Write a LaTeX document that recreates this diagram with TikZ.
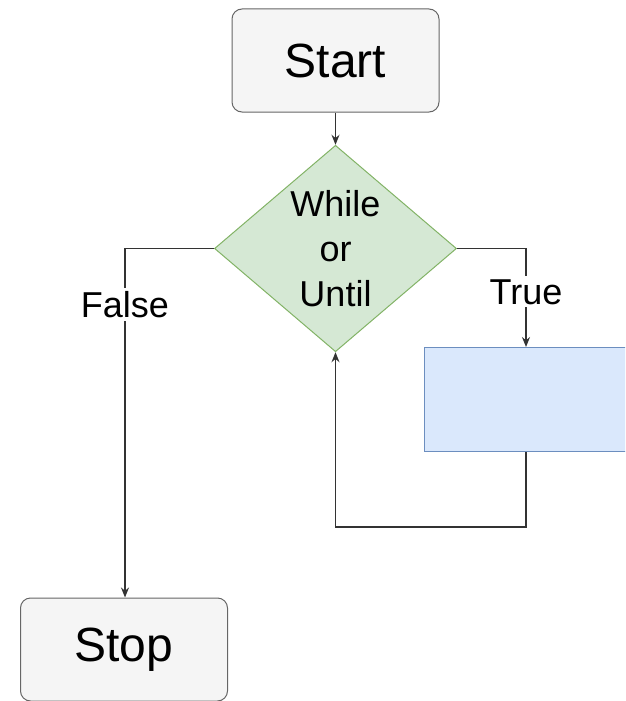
\documentclass[tikz,border=0pt]{standalone}
\usepackage{fontspec}
\setmainfont{Liberation Sans}
\usetikzlibrary{shapes.geometric,arrows.meta}
\definecolor{termfill}{HTML}{F5F5F5}
\definecolor{termline}{HTML}{666666}
\definecolor{decfill}{HTML}{D5E8D4}
\definecolor{decline}{HTML}{82B366}
\definecolor{procfill}{HTML}{DAE8FC}
\definecolor{procline}{HTML}{6C8EBF}
\definecolor{edgecol}{HTML}{333333}
\tikzset{
  term/.style={draw=termline, fill=termfill, rounded corners=10pt, line width=1pt,
    minimum width=207pt, minimum height=103pt, inner sep=0pt, font=\fontsize{48}{56}\selectfont},
  dec/.style={diamond, draw=decline, fill=decfill, line width=1pt, inner sep=0pt,
    minimum width=242pt, minimum height=202pt, align=center, font=\fontsize{36}{45}\selectfont},
  proc/.style={draw=procline, fill=procfill, line width=1pt, minimum width=210pt,
    minimum height=104pt, inner sep=0pt, anchor=north west},
  conn/.style={draw=edgecol, line width=1.4pt, -{Stealth[length=10pt,width=8pt]}},
  lab/.style={fill=white, inner sep=3pt, font=\fontsize{36}{40}\selectfont}
}
\begin{document}
\begin{tikzpicture}[x=1pt,y=-1pt]
\useasboundingbox (0,0) rectangle (625,701);
\clip (0,0) rectangle (625,701);
\node[term] (start) at (335.5,60.5) {Start};
\node[dec] (loop) at (335.5,248.5) {While\\or\\Until};
\node[proc] (body) at (423.5,347) {};
\node[term] (stop) at (124,649.5) {Stop};
\coordinate (tr) at (526,248.5);
\coordinate (fl) at (125,248.5);
\coordinate (bb) at (526,527);
\coordinate (bl) at (335.5,527);
\draw[conn] (start.south) -- (loop.north);
\draw[conn] (loop.east) -- (tr) -- (body.north west -| tr) node[lab, pos=0.44] (truelab) {True};
\draw[conn] (loop.west) -- (fl) -- (stop.north -| fl) node[lab, pos=0.16] (falselab) {False};
\draw[conn] (body.south west -| bb) -- (bb) -- (bl) -- (loop.south);
\end{tikzpicture}
\end{document}
